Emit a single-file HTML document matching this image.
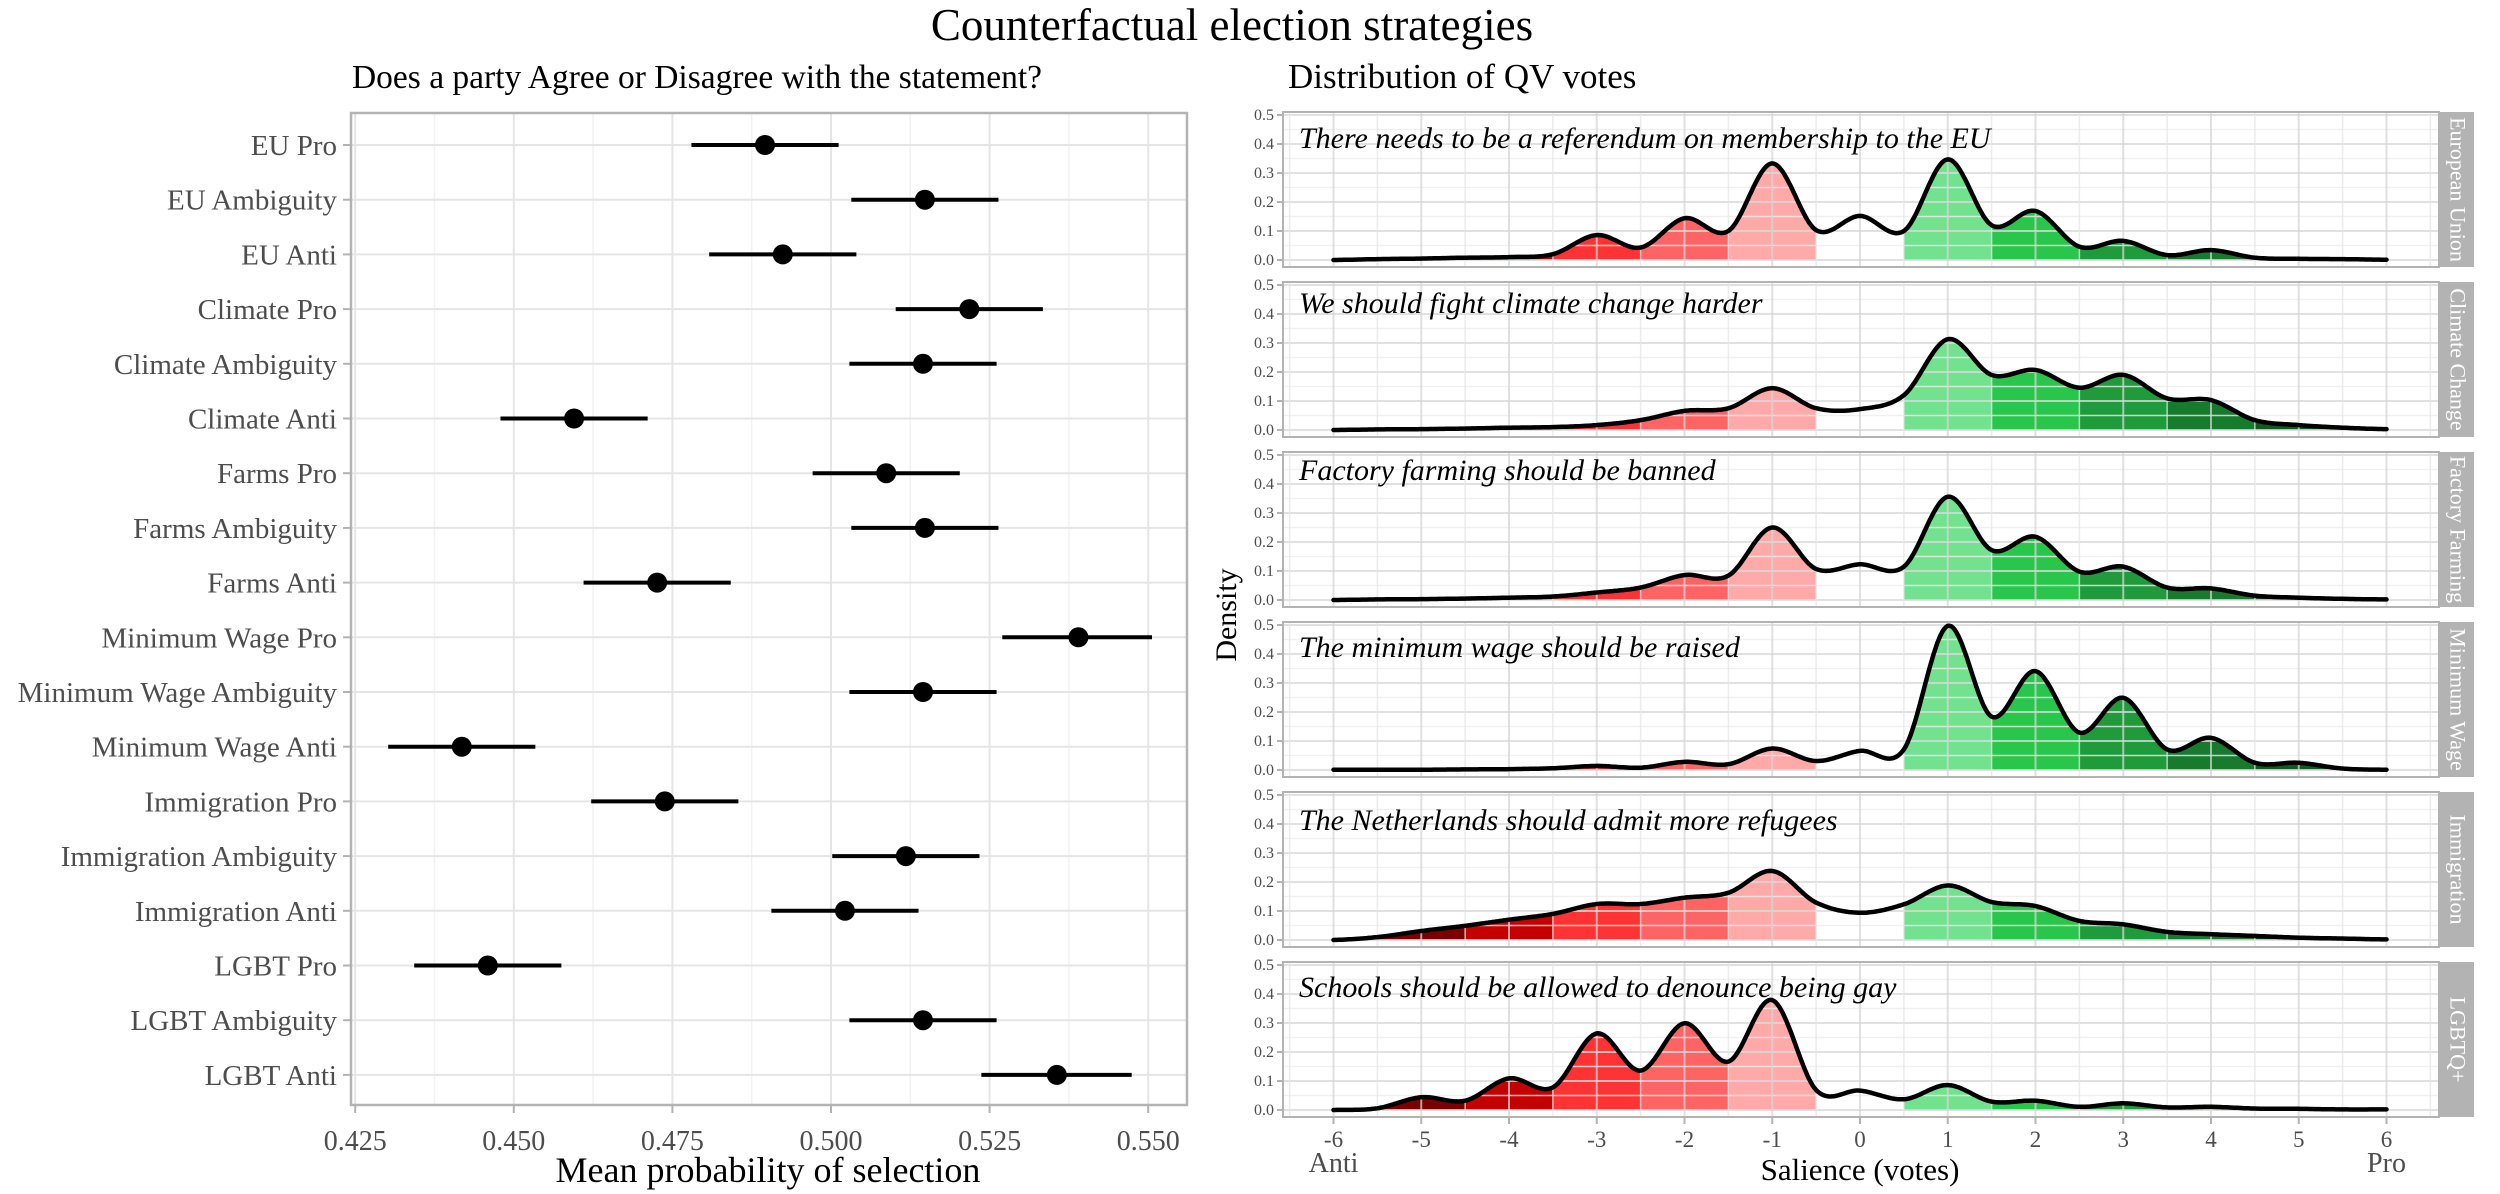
<!DOCTYPE html>
<html><head><meta charset="utf-8"><style>
html,body{margin:0;padding:0;background:#fff;}
svg{display:block;font-family:"Liberation Serif",serif;}
</style></head><body>
<svg id="chart" width="2500" height="1194" viewBox="0 0 2500 1194" xmlns="http://www.w3.org/2000/svg">
<text x="1232" y="40" font-size="45" text-anchor="middle" fill="#000">Counterfactual election strategies</text>
<text x="352" y="88" font-size="34" textLength="690" lengthAdjust="spacingAndGlyphs" fill="#000">Does a party Agree or Disagree with the statement?</text>
<text x="1288" y="88" font-size="35" fill="#000">Distribution of QV votes</text>
<g id="left"></g>
<g id="right"></g>
</svg>
<script>
// ---- Left chart data ----
const categories=["EU Pro","EU Ambiguity","EU Anti","Climate Pro","Climate Ambiguity","Climate Anti","Farms Pro","Farms Ambiguity","Farms Anti","Minimum Wage Pro","Minimum Wage Ambiguity","Minimum Wage Anti","Immigration Pro","Immigration Ambiguity","Immigration Anti","LGBT Pro","LGBT Ambiguity","LGBT Anti"];
const means=[0.4896,0.5148,0.4924,0.5218,0.5145,0.4595,0.5087,0.5148,0.4726,0.5390,0.5145,0.4418,0.4738,0.5118,0.5022,0.4459,0.5145,0.5356];
const lows=[0.4780,0.5032,0.4808,0.5102,0.5029,0.4479,0.4971,0.5032,0.4610,0.5270,0.5029,0.4302,0.4622,0.5002,0.4906,0.4343,0.5029,0.5237];
const highs=[0.5012,0.5264,0.5040,0.5334,0.5261,0.4711,0.5203,0.5264,0.4842,0.5506,0.5261,0.4534,0.4854,0.5234,0.5138,0.4575,0.5261,0.5474];
const xTicks=[0.425,0.450,0.475,0.500,0.525,0.550];
const xTickLabels=["0.425","0.450","0.475","0.500","0.525","0.550"];

// ---- Right chart data ----
const saliences=[-6,-5.5,-5,-4.5,-4,-3.5,-3,-2.5,-2,-1.5,-1,-0.5,0,0.5,1,1.5,2,2.5,3,3.5,4,4.5,5,5.5,6];
const panelTitles=["There needs to be a referendum on membership to the EU","We should fight climate change harder","Factory farming should be banned","The minimum wage should be raised","The Netherlands should admit more refugees","Schools should be allowed to denounce being gay"];
const stripLabels=["European Union","Climate Change","Factory Farming","Minimum Wage","Immigration","LGBTQ+"];
const densEU=[0,0.003,0.005,0.008,0.01,0.02,0.086,0.043,0.144,0.10,0.333,0.103,0.152,0.10,0.347,0.12,0.169,0.046,0.066,0.017,0.034,0.008,0.004,0.003,0.001];
const densClimate=[0,0.002,0.003,0.005,0.008,0.01,0.017,0.034,0.066,0.075,0.144,0.075,0.072,0.12,0.313,0.19,0.207,0.146,0.19,0.109,0.103,0.034,0.017,0.008,0.003];
const densFarm=[0,0.002,0.003,0.005,0.008,0.012,0.026,0.043,0.086,0.084,0.25,0.107,0.123,0.115,0.356,0.172,0.218,0.098,0.115,0.043,0.04,0.015,0.008,0.004,0.002];
const densWage=[0.001,0.001,0.001,0.002,0.003,0.006,0.014,0.008,0.028,0.02,0.074,0.031,0.066,0.071,0.497,0.184,0.341,0.129,0.249,0.071,0.111,0.025,0.025,0.005,0.001];
const densImm=[0,0.01,0.031,0.049,0.07,0.09,0.124,0.124,0.146,0.163,0.238,0.129,0.094,0.123,0.188,0.131,0.117,0.066,0.054,0.028,0.02,0.014,0.008,0.005,0.002];
const densLGBT=[0,0.006,0.044,0.032,0.109,0.078,0.264,0.136,0.299,0.167,0.379,0.069,0.067,0.037,0.086,0.029,0.032,0.011,0.023,0.009,0.011,0.005,0.004,0.002,0.002];
const densities=[densEU,densClimate,densFarm,densWage,densImm,densLGBT];
const titleOffsets=[36,31,28,35,38,35];
const sTicks=[-6,-5,-4,-3,-2,-1,0,1,2,3,4,5,6];
const yTicks=[0,0.1,0.2,0.3,0.4,0.5];
const yTickLabels=["0.0","0.1","0.2","0.3","0.4","0.5"];

const NS="http://www.w3.org/2000/svg";
function mk(tag,attrs,parent){const e=document.createElementNS(NS,tag);for(const k in attrs)e.setAttribute(k,attrs[k]);parent.appendChild(e);return e;}

// ---- Left chart ----
const L=document.getElementById('left');
const lx=v=>831+(v-0.5)*6344;
const ly=i=>145+i*54.7;
const LP={x0:351,x1:1187,y0:113,y1:1105};
let bg=mk('rect',{x:LP.x0,y:LP.y0,width:LP.x1-LP.x0,height:LP.y1-LP.y0,fill:'#fff'},L);


for(let i=0;i<xTicks.length-1;i++){
  const m=(xTicks[i]+xTicks[i+1])/2;
  const g=mk('line',{x1:lx(m),x2:lx(m),y1:LP.y0,y2:LP.y1,stroke:'#f2f2f2','stroke-width':1.5},L);
  
  
}
xTicks.forEach((t,i)=>{
  const g=mk('line',{x1:lx(t),x2:lx(t),y1:LP.y0,y2:LP.y1,stroke:'#e5e5e5','stroke-width':2},L);
  
  
  const tk=mk('line',{x1:lx(t),x2:lx(t),y1:LP.y1,y2:LP.y1+8,stroke:'#b3b3b3','stroke-width':2},L);
  
  
  const tx=mk('text',{x:lx(t),y:1150,'font-size':28,'text-anchor':'middle',fill:'#4d4d4d'},L);
  tx.textContent=xTickLabels[i];
  
  
});
categories.forEach((c,i)=>{
  const y=ly(i);
  const g=mk('line',{x1:LP.x0,x2:LP.x1,y1:y,y2:y,stroke:'#e5e5e5','stroke-width':2},L);
  
  
  const tk=mk('line',{x1:LP.x0-8,x2:LP.x0,y1:y,y2:y,stroke:'#b3b3b3','stroke-width':2},L);
  
  
  const t=mk('text',{x:337,y:y+10,'font-size':29,'text-anchor':'end',fill:'#4d4d4d'},L);
  t.textContent=c;
  
  
});
categories.forEach((c,i)=>{
  const y=ly(i);
  const e=mk('line',{x1:lx(lows[i]),x2:lx(highs[i]),y1:y,y2:y,stroke:'#000','stroke-width':4},L);
  
  
  const d=mk('circle',{cx:lx(means[i]),cy:y,r:10,fill:'#000'},L);
  
  
});
let bd=mk('rect',{x:LP.x0,y:LP.y0,width:LP.x1-LP.x0,height:LP.y1-LP.y0,fill:'none',stroke:'#b3b3b3','stroke-width':2.5},L);


let xt=mk('text',{x:768,y:1182,'font-size':36,'text-anchor':'middle',fill:'#000'},L);
xt.textContent='Mean probability of selection';



// ---- Right chart ----
const R=document.getElementById('right');
const PX0=1283,PX1=2439,SX1=2474;
const sx=v=>1860+v*87.75;
const colors={"-5":"#7a0000","-4":"#c40000","-3":"#ff3333","-2":"#ff6464","-1":"#ffa9a9","0":"#ffffff","1":"#73e28f","2":"#28c64a","3":"#1f9b3c","4":"#177a2d","5":"#0e5a1f"};
function interp(arr,x){
  const n=arr.length;const step=0.5;
  let f=(x-saliences[0])/step;let i=Math.floor(f);if(i>=n-1)i=n-2;if(i<0)i=0;const t=f-i;
  const p0=arr[Math.max(i-1,0)],p1=arr[i],p2=arr[i+1],p3=arr[Math.min(i+2,n-1)];
  const v=0.5*((2*p1)+(-p0+p2)*t+(2*p0-5*p1+4*p2-p3)*t*t+(-p0+3*p1-3*p2+p3)*t*t*t);
  return Math.max(v,0);
}
densities.forEach((arr,k)=>{
  const top=112+k*170,bot=top+155;
  const base=260+k*170;
  const sy=v=>base-v*290;
  const pg=mk('g',{},R);
  
  
  const r=mk('rect',{x:PX0,y:top,width:PX1-PX0,height:bot-top,fill:'#fff'},pg);
  
  
  for(let b=-5;b<=5;b++){
    let pts=[];
    for(let x=b-0.5;x<=b+0.5+1e-9;x+=0.02){pts.push(sx(x).toFixed(1)+','+sy(interp(arr,x)).toFixed(1));}
    pts.push(sx(b+0.5)+','+base);pts.push(sx(b-0.5)+','+base);
    const pf=mk('polygon',{points:pts.join(' '),fill:colors[String(b)]},pg);
    
    
  }
  for(let v=0;v<=0.5001;v+=0.05){
    const maj=Math.abs(v*10-Math.round(v*10))<1e-6;
    const g=mk('line',{x1:PX0,x2:PX1,y1:sy(v),y2:sy(v),stroke:maj?'#d9d9d9':'#ececec','stroke-width':maj?2:1.5,'stroke-opacity':0.8},pg);
    
    
  }
  for(let v=-6.5;v<=6.5;v+=0.5){
    const maj=Number.isInteger(v);
    const g=mk('line',{x1:sx(v),x2:sx(v),y1:top,y2:bot,stroke:maj?'#d6d6d6':'#e6e6e6','stroke-width':maj?2:1.5,'stroke-opacity':0.75},pg);
    
    
  }
  let cp=[];
  for(let x=-6;x<=6.0001;x+=0.02){cp.push(sx(x).toFixed(1)+','+sy(interp(arr,x)).toFixed(1));}
  const c=mk('polyline',{points:cp.join(' '),fill:'none',stroke:'#000','stroke-width':4.5,'stroke-linejoin':'round','stroke-linecap':'round'},pg);
  
  
  const bdr=mk('rect',{x:PX0,y:top,width:PX1-PX0,height:bot-top,fill:'none',stroke:'#b3b3b3','stroke-width':2},pg);
  
  
  yTicks.forEach((v,i)=>{
    const tk=mk('line',{x1:PX0-6,x2:PX0,y1:sy(v),y2:sy(v),stroke:'#b3b3b3','stroke-width':2},pg);
    
    
    const t=mk('text',{x:PX0-9,y:sy(v)+5,'font-size':16,'text-anchor':'end',fill:'#4d4d4d'},pg);
    t.textContent=yTickLabels[i];
    
    
  });
  const tt=mk('text',{x:1299,y:top+titleOffsets[k],'font-size':30,'font-style':'italic',fill:'#000'},pg);
  tt.textContent=panelTitles[k];
  
  
  const st=mk('rect',{x:PX1+1,y:top,width:SX1-PX1-1,height:bot-top,fill:'#b3b3b3'},pg);
  
  
  const cx=(PX1+SX1)/2+1,cy=(top+bot)/2;
  const sl=mk('text',{x:cx,y:cy+7,'font-size':22,'text-anchor':'middle',fill:'#fff',transform:'rotate(90 '+cx+' '+cy+')'},pg);
  sl.textContent=stripLabels[k];
  
  
});
const lastBot=112+5*170+155;
sTicks.forEach(v=>{
  const tk=mk('line',{x1:sx(v),x2:sx(v),y1:lastBot,y2:lastBot+7,stroke:'#b3b3b3','stroke-width':2},R);
  
  
  const t=mk('text',{x:sx(v),y:1147,'font-size':23,'text-anchor':'middle',fill:'#4d4d4d'},R);
  t.textContent=String(v);
  
  
});
let an=mk('text',{x:sx(-6),y:1172,'font-size':28,'text-anchor':'middle',fill:'#4d4d4d'},R);
an.textContent='Anti';


let pr=mk('text',{x:sx(6),y:1172,'font-size':28,'text-anchor':'middle',fill:'#4d4d4d'},R);
pr.textContent='Pro';


let st2=mk('text',{x:1860,y:1180,'font-size':31,'text-anchor':'middle',fill:'#000'},R);
st2.textContent='Salience (votes)';


let dy=mk('text',{x:1236,y:615,'font-size':30,'text-anchor':'middle',fill:'#000',transform:'rotate(-90 1236 615)'},R);
dy.textContent='Density';


</script>
</body></html>
